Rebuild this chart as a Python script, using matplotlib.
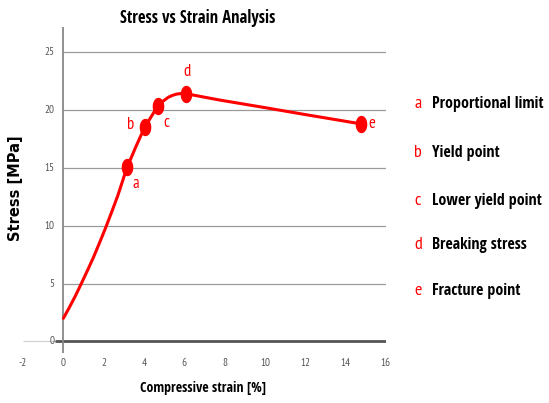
import matplotlib
matplotlib.use("Agg")
import matplotlib.pyplot as plt
import numpy as np
from matplotlib.path import Path

# Data
curve_x = [0, 0.3, 0.6, 0.89, 1.2, 1.5, 1.8, 2.08, 2.4, 2.7, 3.15, 3.6, 4.03, 4.67, 4.9, 5.21, 5.4, 5.62, 5.85, 6.09, 7.77, 10, 12, 14.75]
curve_y = [2, 2.95, 3.95, 5.0, 6.15, 7.3, 8.55, 9.75, 11.2, 12.6, 15.0, 16.84, 18.5, 20.3, 20.7, 21.1, 21.25, 21.37, 21.42, 21.4, 20.85, 20.2, 19.6, 18.8]
pt_x = [3.15, 4.03, 4.67, 6.09, 14.75]
pt_y = [15.1, 18.5, 20.3, 21.4, 18.8]
pt_labels = ["a", "b", "c", "d", "e"]
legend_text = ["Proportional limit", "Yield point", "Lower yield point", "Breaking stress", "Fracture point"]
x_ticks = [-2, 0, 2, 4, 6, 8, 10, 12, 14, 16]
y_ticks = [0, 5, 10, 15, 20, 25]

NARROW_B = ["Open Sans Condensed", "PT Sans Narrow", "DejaVu Sans"]
NARROW = ["PT Sans Narrow", "DejaVu Sans"]
RED = "#ff0000"

fig = plt.figure(figsize=(5.49, 4.03), dpi=100)
ax = fig.add_axes([0.042, 0.124, 0.661, 0.81])
ax.set_xlim(-2, 16)
ax.set_ylim(-1, 27.2)
for s in ax.spines.values():
    s.set_visible(False)
ax.set_xticks([]); ax.set_yticks([])

ax.hlines(y_ticks[1:], 0, 16, color="#9a9a9a", lw=0.9, zorder=1)
ax.hlines(0, -2, 0, color="#d0d0d0", lw=0.8, zorder=1)
ax.hlines(0, -0.4, 16, color="#555555", lw=2.0, zorder=2)
ax.vlines(0, -1, 27.2, color="#888888", lw=1.3, zorder=2)

for t in y_ticks:
    ax.text(-0.45, t, str(t), ha="right", va="center", fontsize=8, color="#555555", family=NARROW)
for t in x_ticks:
    ax.text(t, -1.9, str(t), ha="center", va="center", fontsize=8, color="#555555", family=NARROW, clip_on=False)

ax.plot(curve_x, curve_y, color=RED, lw=2.2, zorder=3, solid_capstyle="round", solid_joinstyle="round")
theta = np.linspace(0, 2*np.pi, 40)
ell = Path(np.column_stack([0.64*np.cos(theta), np.sin(theta)]), closed=True)
ax.plot(pt_x, pt_y, ls="none", marker=ell, ms=11.5, color=RED, zorder=4)

lab_x = [3.6, 3.35, 5.1, 6.15, 15.3]
lab_y = [13.6, 18.7, 18.85, 23.3, 18.8]
for x, y, l in zip(lab_x, lab_y, pt_labels):
    ax.text(x, y, l, color=RED, fontsize=12, ha="center", va="center", family=NARROW)

fig.text(198/549, 1 - 18/403, "Stress vs Strain Analysis", ha="center", va="center",
         fontsize=12, fontweight="bold", family=NARROW_B)
fig.text(203/549, 1 - 388/403, "Compressive strain [%]", ha="center", va="center",
         fontsize=10, fontweight="bold", family=NARROW_B)
fig.text(16/549, 1 - 188/403, "Stress [MPa]", rotation=90, ha="center", va="center",
         fontsize=10.5, fontweight="bold", family="DejaVu Sans")

leg_y = [104, 153, 201, 245, 291]
for l, t, yp in zip(pt_labels, legend_text, leg_y):
    fy = 1 - yp/403
    fig.text(418/549, fy, l, color=RED, fontsize=13, ha="center", va="center", family=NARROW)
    fig.text(432/549, fy, t, color="black", fontsize=11.5, fontweight="bold", ha="left", va="center", family=NARROW_B)

fig.savefig("out.png", dpi=100, facecolor="white")
